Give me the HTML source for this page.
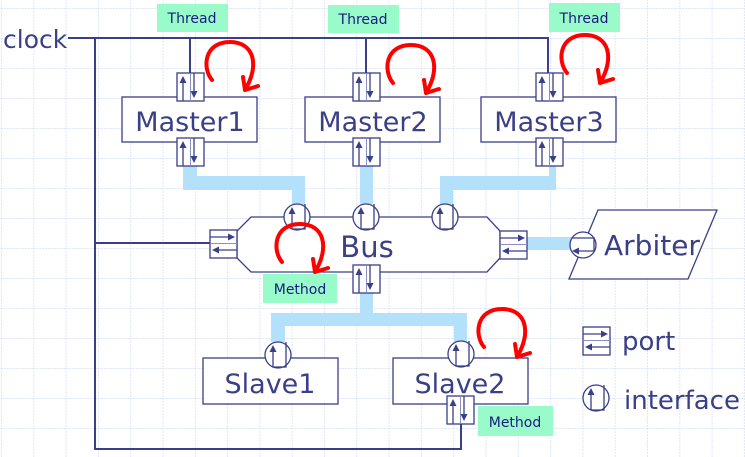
<!DOCTYPE html>
<html><head><meta charset="utf-8"><style>
html,body{margin:0;padding:0;background:#fff}
svg{display:block}
text{font-family:"DejaVu Sans","Liberation Sans",sans-serif;fill:#3a3f86}
.g{font-size:14px;fill:#1a1a80}
</style></head><body>
<svg width="745" height="457" viewBox="0 0 745 457" xmlns="http://www.w3.org/2000/svg">
<defs>
<pattern id="grid" x="1" y="8" width="32.3" height="30" patternUnits="userSpaceOnUse">
<path d="M0.5 0V30M0 0.5H32.3" stroke="#dfe6f6" stroke-width="1" stroke-dasharray="2,1" fill="none"/>
</pattern>
<g id="vp"><rect x="0" y="0" width="27" height="28" fill="#fff" stroke="#3a3f86" stroke-width="1.3"/>
<line x1="13.5" y1="0" x2="13.5" y2="28" stroke="#8a8fc0"/>
<line x1="6" y1="6" x2="6" y2="28" stroke="#3a3f86" stroke-width="1.3"/><path d="M2.5 10L6 3L9.5 10Z" fill="#3a3f86"/>
<line x1="17" y1="0" x2="17" y2="22" stroke="#3a3f86" stroke-width="1.3"/><path d="M13.5 18L17 25L20.5 18Z" fill="#3a3f86"/></g>
<g id="hp"><rect x="0" y="0" width="27" height="28" fill="#fff" stroke="#3a3f86" stroke-width="1.3"/>
<line x1="0" y1="13.5" x2="27" y2="13.5" stroke="#8a8fc0"/>
<line x1="0" y1="7" x2="21" y2="7" stroke="#3a3f86" stroke-width="1.3"/><path d="M18 3.5L25 7L18 10.5Z" fill="#3a3f86"/>
<line x1="6" y1="20" x2="27" y2="20" stroke="#3a3f86" stroke-width="1.3"/><path d="M9 16.5L2 20L9 23.5Z" fill="#3a3f86"/></g>
<g id="if"><circle cx="0" cy="0" r="13" fill="#fff" stroke="#3a3f86" stroke-width="1.3"/>
<path d="M-5 -6V12H8V-13" fill="none" stroke="#3a3f86" stroke-width="1.3"/><path d="M-8.5 -3L-5 -10L-1.5 -3Z" fill="#3a3f86"/></g>
<g id="loop"><path d="M0 0C-10 -12 -8 -38 18 -38C42 -38 48 -15 33 10" fill="none" stroke="#f00" stroke-width="4" stroke-linecap="round"/>
<path d="M31 -3L33 10L46 6" fill="none" stroke="#f00" stroke-width="4" stroke-linecap="round" stroke-linejoin="round"/></g>
</defs>
<rect width="745" height="457" fill="url(#grid)"/>
<!-- blue connectors -->
<g fill="#b3e0fa">
<path d="M183 166H197V176H305V205H292V190H183Z"/>
<rect x="360" y="166" width="13" height="38"/>
<path d="M549 166H556V190H453V205H440V176H549Z"/>
<path d="M360 293H373V313H467V342H454V326H285V342H271V313H360Z"/>
<rect x="527" y="237" width="45" height="13"/>
</g>
<!-- clock lines -->
<g stroke="#3a3f86" stroke-width="2" fill="none">
<path d="M68 38H548V73"/>
<path d="M190 38V73M366 38V73"/>
<path d="M95 38V449H461V423"/>
<path d="M95 243H210"/>
</g>
<text x="3" y="48" style="font-size:25px">clock</text>
<!-- thread labels -->
<rect x="157" y="4" width="71" height="28" fill="#99fbc9"/><text class="g" x="192" y="23" text-anchor="middle">Thread</text>
<rect x="328" y="5" width="71" height="28" fill="#99fbc9"/><text class="g" x="363" y="24" text-anchor="middle">Thread</text>
<rect x="549" y="3" width="71" height="29" fill="#99fbc9"/><text class="g" x="584" y="23" text-anchor="middle">Thread</text>
<!-- masters -->
<g fill="#fff" stroke="#3a3f86" stroke-width="1.3">
<rect x="122" y="97" width="135" height="45"/>
<rect x="305" y="97" width="135" height="45"/>
<rect x="481" y="97" width="135" height="45"/>
<rect x="203" y="358" width="135" height="46"/>
<rect x="393" y="358" width="135" height="46"/>
<path d="M251 217H487L500 231V258L487 272H251L237 258V231Z"/>
<path d="M598 210H717L688 279H569Z"/>
</g>
<g style="font-size:27px" text-anchor="middle">
<text x="190" y="131">Master1</text>
<text x="373" y="131">Master2</text>
<text x="549" y="131">Master3</text>
<text x="270" y="393">Slave1</text>
<text x="460" y="393">Slave2</text>
<text x="367" y="257" style="font-size:29px">Bus</text>
</g>
<text x="604" y="255" style="font-size:28px">Arbiter</text>
<!-- ports -->
<use href="#vp" x="177" y="73"/><use href="#vp" x="177" y="138"/>
<use href="#vp" x="353" y="73"/><use href="#vp" x="353" y="138"/>
<use href="#vp" x="536" y="73"/><use href="#vp" x="536" y="138"/>
<use href="#vp" x="353" y="265"/>
<use href="#vp" x="447" y="396"/>
<use href="#hp" x="210" y="230"/>
<use href="#hp" x="500" y="231"/>
<!-- interfaces -->
<use href="#if" x="297" y="217"/><use href="#if" x="366" y="217"/><use href="#if" x="445" y="217"/>
<use href="#if" x="278" y="355"/><use href="#if" x="461" y="354"/>
<g><circle cx="583" cy="245" r="13" fill="#fff" stroke="#3a3f86" stroke-width="1.3"/>
<path d="M572 238H594V251H576" fill="none" stroke="#3a3f86" stroke-width="1.3"/><path d="M579 247.5L572 251L579 254.5Z" fill="#3a3f86"/></g>
<!-- loops -->
<use href="#loop" x="212" y="80"/>
<use href="#loop" x="393" y="83"/>
<use href="#loop" x="567" y="73"/>
<use href="#loop" x="282" y="262"/>
<use href="#loop" x="484" y="347"/>
<!-- method labels -->
<rect x="263" y="274" width="74" height="29" fill="#99fbc9"/><text class="g" x="300" y="294" text-anchor="middle">Method</text>
<rect x="478" y="406" width="75" height="30" fill="#99fbc9"/><text class="g" x="515" y="427" text-anchor="middle">Method</text>
<!-- legend -->
<use href="#hp" x="583" y="327"/>
<text x="622" y="350" style="font-size:26px">port</text>
<use href="#if" x="596" y="398"/>
<text x="624" y="409" style="font-size:26px">interface</text>
</svg>
</body></html>
